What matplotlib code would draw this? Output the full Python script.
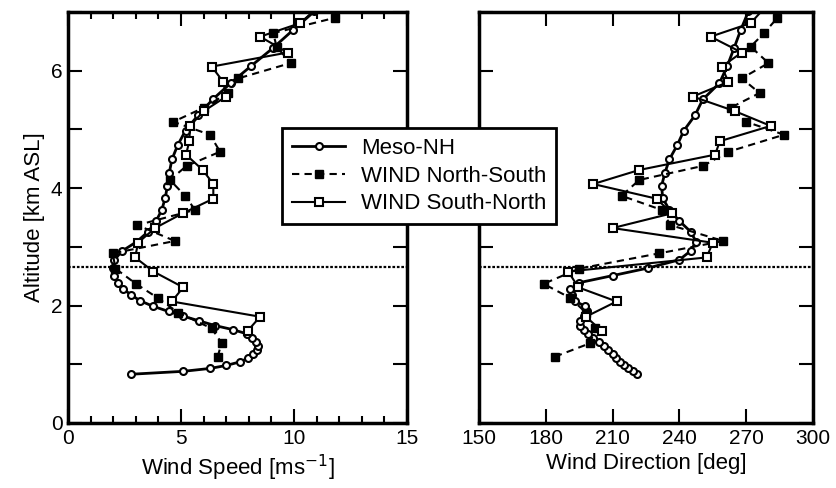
import matplotlib
matplotlib.use("Agg")
import matplotlib.pyplot as plt
from matplotlib.ticker import MultipleLocator, FixedLocator

plt.rcParams['font.family'] = ['Liberation Sans', 'DejaVu Sans']

# ---- Meso-NH model profile ----
meso_alt = [0.83, 0.88, 0.93, 0.98, 1.04, 1.10, 1.17, 1.24, 1.31, 1.38, 1.45, 1.52,
            1.59, 1.66, 1.74, 1.82, 1.90, 1.99, 2.08, 2.18, 2.28, 2.39, 2.51, 2.64,
            2.78, 2.93, 3.09, 3.26, 3.44, 3.63, 3.83, 4.04, 4.26, 4.49, 4.73, 4.98,
            5.24, 5.51, 5.79, 6.08, 6.38, 6.69, 7.01, 7.34]
meso_speed = [2.77, 5.1, 6.3, 7.0, 7.6, 7.95, 8.2, 8.35, 8.4, 8.3, 8.15, 7.9,
              7.3, 6.5, 5.8, 5.1, 4.45, 3.75, 3.2, 2.8, 2.45, 2.2, 2.02, 1.97,
              2.05, 2.4, 3.05, 3.55, 3.9, 4.15, 4.3, 4.4, 4.48, 4.6, 4.85, 5.2,
              5.75, 6.4, 7.2, 8.1, 9.05, 9.95, 10.9, 11.8]
meso_dir = [220.8, 219, 217, 215.3, 213.3, 211.5, 210, 208, 206, 203.7, 201, 199,
            197, 195.3, 195.2, 197, 198.3, 197.5, 193, 191.6, 191, 195, 210, 226,
            240, 245, 247.5, 245, 240, 235.5, 232.5, 232, 233.5, 235.5, 239, 242,
            247, 250.5, 258, 261.5, 264.5, 267.5, 271, 274.5]

# ---- WIND North-South ----
ns_alt = [1.13, 1.36, 1.61, 1.88, 2.13, 2.37, 2.63, 2.89, 3.10, 3.37, 3.63, 3.87,
          4.14, 4.38, 4.62, 4.91, 5.13, 5.37, 5.62, 5.87, 6.13, 6.41, 6.64, 6.90]
ns_speed = [6.62, 6.8, 6.36, 4.88, 3.97, 3.01, 2.1, 1.98, 4.73, 3.07, 5.62, 5.18,
            4.51, 5.25, 6.73, 6.28, 4.66, 6.0, 7.09, 7.54, 9.85, 9.23, 9.08, 11.8]
ns_dir = [184.1, 200, 202, 198, 191, 179, 195, 231, 259.7, 236, 232, 214,
          222, 250.7, 262, 287, 270, 263, 276, 268, 280, 272, 278, 284]

# ---- WIND South-North ----
sn_alt = [1.57, 1.81, 2.07, 2.31, 2.58, 2.82, 3.07, 3.32, 3.57, 3.82, 4.07, 4.31,
          4.57, 4.80, 5.06, 5.31, 5.56, 5.81, 6.07, 6.31, 6.58, 6.81, 7.06]
sn_speed = [7.95, 8.5, 4.59, 5.1, 3.78, 2.97, 3.1, 3.85, 5.07, 6.43, 6.43, 5.96,
            5.22, 5.37, 5.4, 6.0, 7.0, 6.87, 6.36, 9.72, 8.5, 10.27, 11.0]
sn_dir = [205.1, 198, 211.8, 194.6, 190.1, 252.2, 255, 210, 236.5, 229.8, 201.3, 222,
          256, 258.2, 281, 265, 246, 262, 259, 268, 254, 272, 278]

boundary_alt = 2.66

speed_ticks = [0, 5, 10, 15]
dir_ticks = [150, 180, 210, 240, 270, 300]
alt_ticks = [0, 2, 4, 6]

W, H = 836, 488
fig = plt.figure(figsize=(W / 100, H / 100), dpi=100)
ax1 = fig.add_axes([68 / W, 1 - 423 / H, 339 / W, 411 / H])
ax2 = fig.add_axes([479 / W, 1 - 423 / H, 334 / W, 411 / H])

meso_kw = dict(color='black', lw=2.0, marker='o', ms=5, mfc='white', mec='black', mew=1.5)
ns_kw = dict(color='black', lw=1.5, ls=(0, (3.5, 2.5)), marker='s', ms=6, mfc='black', mec='black', mew=1.0)
sn_kw = dict(color='black', lw=1.5, marker='s', ms=6, mfc='white', mec='black', mew=1.5)

for ax, ms_, ns_, sn_ in [(ax1, meso_speed, ns_speed, sn_speed), (ax2, meso_dir, ns_dir, sn_dir)]:
    ax.plot(ms_, meso_alt, label='Meso-NH', **meso_kw)
    ax.plot(ns_, ns_alt, label='WIND North-South', **ns_kw)
    ax.plot(sn_, sn_alt, label='WIND South-North', **sn_kw)
    ax.axhline(boundary_alt, color='black', lw=1.6, ls=(0, (1.2, 0.8)))
    ax.set_ylim(0, 7)
    ax.yaxis.set_major_locator(FixedLocator(alt_ticks))
    ax.yaxis.set_minor_locator(MultipleLocator(1))
    for s in ax.spines.values():
        s.set_linewidth(2.5)
    ax.tick_params(which='both', direction='in', top=True, right=True, width=1.5,
                   labelsize=15, pad=4)
    ax.tick_params(which='major', length=10)
    ax.tick_params(axis='y', which='minor', length=10)
    ax.tick_params(axis='x', which='minor', length=5)

ax1.set_xlim(0, 15)
ax1.xaxis.set_major_locator(FixedLocator(speed_ticks))
ax1.xaxis.set_minor_locator(MultipleLocator(1))
ax1.set_xlabel('Wind Speed [ms$^{-1}$]', fontsize=16)
ax1.set_ylabel('Altitude [km ASL]', fontsize=16)

ax2.set_xlim(150, 300)
ax2.xaxis.set_major_locator(FixedLocator(dir_ticks))
ax2.set_yticklabels([])
ax2.set_xlabel('Wind Direction [deg]', fontsize=16)

handles, labels = ax1.get_legend_handles_labels()
leg = fig.legend(handles, labels, loc='upper left', bbox_to_anchor=(282 / W, 1 - 128 / H),
                 borderaxespad=0, fontsize=16, frameon=True, fancybox=False,
                 edgecolor='black', framealpha=1, handlelength=2.4, handletextpad=0.7,
                 labelspacing=0.3, borderpad=0.45)
leg.get_frame().set_linewidth(2.0)

fig.savefig('out.png', dpi=100)
